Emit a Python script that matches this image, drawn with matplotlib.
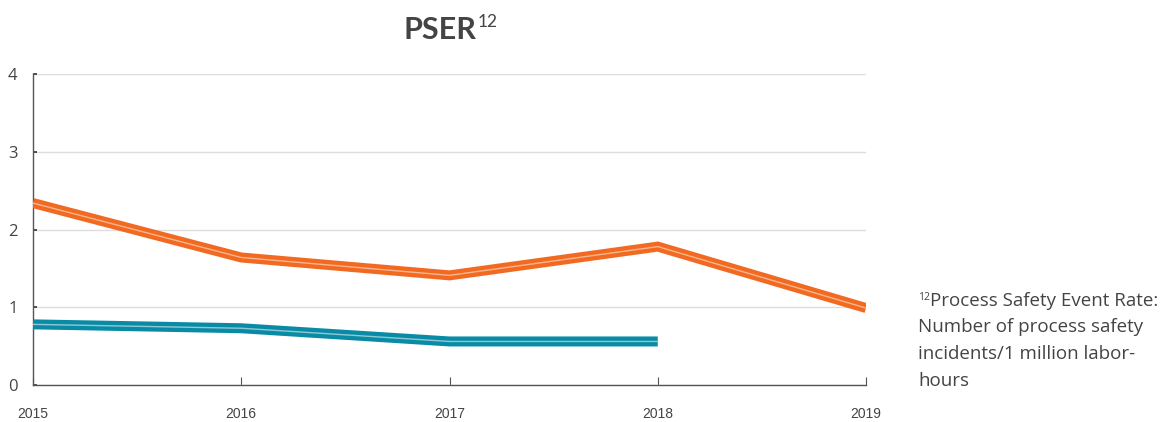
import matplotlib
matplotlib.use("Agg")
import matplotlib.pyplot as plt

years = [2015, 2016, 2017, 2018, 2019]
orange_vals = [2.34, 1.64, 1.41, 1.78, 0.99]
teal_years = [2015, 2016, 2017, 2018]
teal_vals = [0.78, 0.73, 0.56, 0.56]
yticks = [0, 1, 2, 3, 4]

W, H = 1168, 422
fig = plt.figure(figsize=(W/100, H/100), dpi=100)
plt.rcParams['font.family'] = ['Lato', 'DejaVu Sans']
ax = fig.add_axes([33/W, 1-385/H, (866-33)/W, (385-74)/H])
ax.set_xlim(2015, 2019)
ax.set_ylim(0, 4)

for xs, ys, c, ci in [(years, orange_vals, '#F26A21', '#F7B68F'),
                      (teal_years, teal_vals, '#0A8BA5', '#8FC8D4')]:
    ax.plot(xs, ys, color=c, lw=7.2, solid_capstyle='butt', solid_joinstyle='miter', zorder=3)
    ax.plot(xs, ys, color=ci, lw=1.0, solid_capstyle='butt', zorder=4)

ax.set_yticks(yticks)
ax.set_yticklabels([str(v) for v in yticks], fontfamily='Open Sans')
ax.set_xticks(years)
ax.set_xticklabels([str(y) for y in years], fontfamily='Liberation Sans')
ax.grid(axis='y', color='#DDDDDD', lw=1.0)
ax.set_axisbelow(True)
for s in ['top', 'right']:
    ax.spines[s].set_visible(False)
for s in ['left', 'bottom']:
    ax.spines[s].set_color('#555555')
    ax.spines[s].set_linewidth(1.0)
ax.tick_params(axis='y', direction='in', length=3, width=1.2, color='#333333', labelsize=12, labelcolor='#444444', pad=11)
ax.tick_params(axis='x', direction='in', length=6, color='#555555', labelsize=10, labelcolor='#444444', pad=16)

# Title
fig.text(477/W, 1-30/H, 'PSER', ha='right', va='center', fontsize=22, fontweight='bold', color='#444444')
fig.text(478/W, 1-22/H, '12', ha='left', va='center', fontsize=12.5, color='#444444')

# Footnote
fx = 918/W
fs = 13.5
fig.text(fx, 1-297/H, '12', ha='left', va='center', fontsize=7.5, color='#444444', fontfamily='Open Sans')
lines = ['Process Safety Event Rate:', 'Number of process safety', 'incidents/1 million labor-', 'hours']
fig.text(fx + 12/W, 1-301/H, lines[0], ha='left', va='center', fontsize=fs, color='#444444', fontfamily='Open Sans')
for i, t in enumerate(lines[1:], start=1):
    fig.text(fx, 1-(301 + 26.5*i)/H, t, ha='left', va='center', fontsize=fs, color='#444444', fontfamily='Open Sans')

fig.savefig('out.png', dpi=100)
